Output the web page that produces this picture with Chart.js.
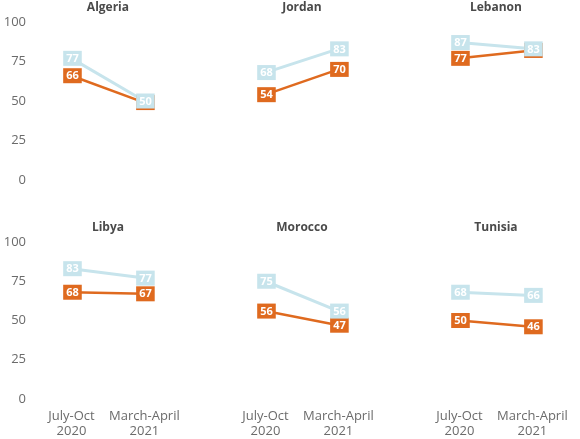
<!DOCTYPE html>
<html>
<head>
<meta charset="utf-8">
<script src="https://cdn.jsdelivr.net/npm/chart.js@4.4.0/dist/chart.umd.min.js"></script>
<style>
  body { margin: 0; background: #fff; }
  #wrap { position: relative; width: 580px; height: 439px; overflow: hidden; }
  .panel { position: absolute; }
</style>
</head>
<body>
<div id="wrap"></div>
<script>
// Data
const countries = ['Algeria', 'Jordan', 'Lebanon', 'Libya', 'Morocco', 'Tunisia'];
const periods = [['July-Oct', '2020'], ['March-April', '2021']];
const blueValues = [[77, 50], [68, 83], [87, 83], [83, 77], [75, 56], [68, 66]];
const orangeValues = [[66, 49], [54, 70], [77, 82], [68, 67], [56, 47], [50, 46]];
const yTicks = [0, 25, 50, 75, 100];

const BLUE = '#c7e4ec';
const ORANGE = '#df6a1f';
const FONT = "'Open Sans', sans-serif";

// draws title and the square value labels
const labelPlugin = {
    id: 'boxLabels',
    afterDatasetsDraw(chart) {
        const ctx = chart.ctx;
        const area = chart.chartArea;
        ctx.save();
        ctx.fillStyle = '#4a4a4a';
        ctx.font = 'bold 12px ' + FONT;
        ctx.textAlign = 'center';
        ctx.textBaseline = 'middle';
        ctx.fillText(chart.options.plugins.boxLabels.title, (area.left + area.right) / 2, 8);

        ctx.font = 'bold 11px ' + FONT;
        for (let d = chart.data.datasets.length - 1; d >= 0; d--) {
            const ds = chart.data.datasets[d];
            const meta = chart.getDatasetMeta(d);
            meta.data.forEach((pt, i) => {
                const txt = String(ds.data[i]);
                const w = Math.max(18, ctx.measureText(txt).width + 6);
                const h = 15;
                ctx.fillStyle = ds.borderColor;
                ctx.fillRect(pt.x - w / 2 + 1, pt.y - h / 2, w, h);
                ctx.fillStyle = '#ffffff';
                ctx.fillText(txt, pt.x + 1, pt.y + 0.5);
            });
        }
        ctx.restore();
    }
};

const wrap = document.getElementById('wrap');

countries.forEach((name, idx) => {
    const col = idx % 3;
    const row = Math.floor(idx / 3);
    const div = document.createElement('div');
    div.className = 'panel';
    div.style.left = (col * 194) + 'px';
    div.style.top = (row * 220) + 'px';
    div.style.width = '192px';
    div.style.height = (row === 0 ? 220 : 219) + 'px';
    const canvas = document.createElement('canvas');
    div.appendChild(canvas);
    wrap.appendChild(div);

    new Chart(canvas.getContext('2d'), {
        type: 'line',
        data: {
            labels: periods,
            datasets: [{
                label: 'Blue',
                data: blueValues[idx],
                borderColor: BLUE,
                backgroundColor: BLUE,
                borderWidth: 3,
                pointRadius: 0,
                tension: 0
            }, {
                label: 'Orange',
                data: orangeValues[idx],
                borderColor: ORANGE,
                backgroundColor: ORANGE,
                borderWidth: 2.5,
                pointRadius: 0,
                tension: 0
            }]
        },
        plugins: [labelPlugin],
        options: {
            responsive: true,
            maintainAspectRatio: false,
            animation: false,
            layout: { padding: { top: 22, right: 9, left: 0, bottom: 0 } },
            scales: {
                x: {
                    offset: true,
                    grid: { display: false, drawTicks: false },
                    border: { display: false },
                    ticks: {
                        padding: 10,
                        color: row === 1 ? '#6b6b6b' : 'rgba(0,0,0,0)',
                        font: { family: FONT, size: 13, lineHeight: 1.15 },
                        maxRotation: 0
                    },
                    afterFit(scale) { scale.height = 40; }
                },
                y: {
                    min: 0,
                    max: 100,
                    afterBuildTicks(scale) { scale.ticks = yTicks.map(v => ({ value: v })); },
                    grid: { display: false, drawTicks: false },
                    border: { display: false },
                    ticks: {
                        padding: 9,
                        color: col === 0 ? '#6b6b6b' : 'rgba(0,0,0,0)',
                        font: { family: FONT, size: 13 }
                    },
                    afterFit(scale) { scale.width = 35; }
                }
            },
            plugins: {
                legend: { display: false },
                tooltip: { enabled: false },
                boxLabels: { title: name }
            }
        }
    });
});
</script>
</body>
</html>
